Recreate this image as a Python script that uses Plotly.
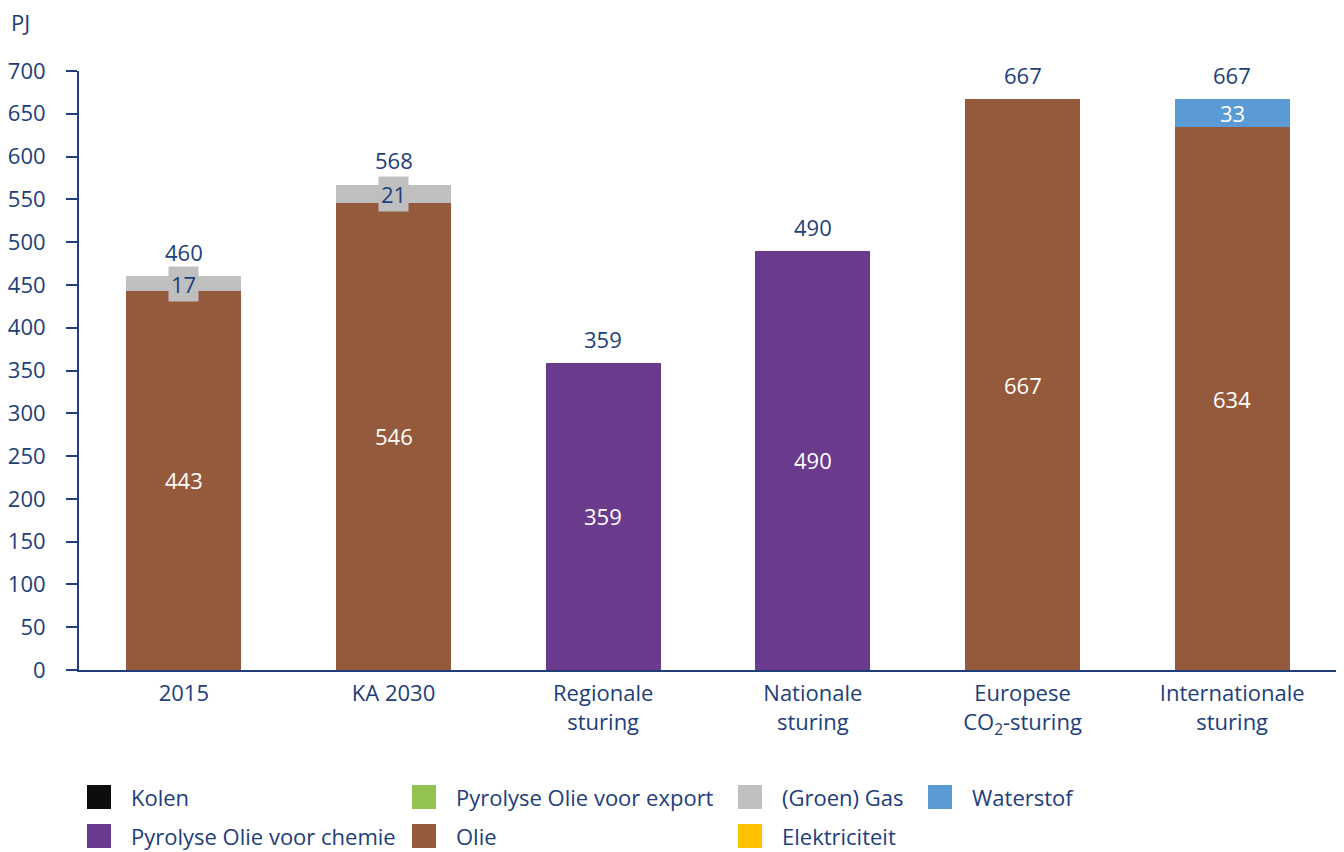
import plotly.graph_objects as go

categories = ["2015", "KA 2030", "Regionale<br>sturing", "Nationale<br>sturing",
              "Europese<br>CO<sub>2</sub>-sturing", "Internationale<br>sturing"]

kolen = [0, 0, 0, 0, 0, 0]
pyro_chemie = [0, 0, 359, 490, 0, 0]
pyro_export = [0, 0, 0, 0, 0, 0]
olie = [443, 546, 0, 0, 667, 634]
gas = [17, 21, 0, 0, 0, 0]
elektriciteit = [0, 0, 0, 0, 0, 0]
waterstof = [0, 0, 0, 0, 0, 33]
totals = [460, 568, 359, 490, 667, 667]

y_ticks = list(range(0, 701, 50))

NAVY = "#213E7A"
FONT = "Open Sans"
FS = 22

series = [
    ("Kolen", kolen, "#0D0D0D", "white", None),
    ("Pyrolyse Olie voor chemie", pyro_chemie, "#6A3B8C", "white", None),
    ("Pyrolyse Olie voor export", pyro_export, "#92C353", "white", None),
    ("Olie", olie, "#955A3C", "white", None),
    ("(Groen) Gas", gas, "#BFBFBF", NAVY, "#BFBFBF"),
    ("Elektriciteit", elektriciteit, "#FFC000", NAVY, None),
    ("Waterstof", waterstof, "#5B9BD5", "white", None),
]

fig = go.Figure()
annotations = []
base = [0] * len(categories)
for name, vals, color, tcol, bg in series:
    fig.add_trace(go.Bar(x=categories, y=vals, name=name, marker_color=color,
                         marker_line_width=0, width=0.55, showlegend=False))
    for i, v in enumerate(vals):
        if v > 0:
            # numeric x = category index on a category axis
            annotations.append(dict(x=i, y=base[i] + v / 2, xref="x", yref="y",
                                    text=str(v), showarrow=False,
                                    font=dict(family=FONT, size=FS, color=tcol),
                                    bgcolor=bg, borderpad=2 if bg else 1))
            base[i] += v

for i, t in enumerate(totals):
    annotations.append(dict(x=i, y=t, xref="x", yref="y", text=str(t),
                            showarrow=False, yanchor="middle", yshift=24,
                            font=dict(family=FONT, size=FS, color=NAVY)))

# page has an 8px body margin: figure is drawn at (8, 8)
OFF = 8
W, H = 1344 - OFF, 852 - OFF
# plot area in reference pixels: x 79..1337, y 71..670
L, R, T, B = 79, 1337, 71, 670
def px(xp):
    return (xp - L) / (R - L)
def py(yp):
    return (B - yp) / (B - T)

annotations.append(dict(x=px(10), y=py(22), xref="paper", yref="paper", text="PJ",
                        showarrow=False, xanchor="left", yanchor="middle", borderpad=0,
                        font=dict(family=FONT, size=FS, color=NAVY)))

legend_pos = {
    "Kolen": (87, 797),
    "Pyrolyse Olie voor export": (412, 797),
    "(Groen) Gas": (738, 797),
    "Waterstof": (928, 797),
    "Pyrolyse Olie voor chemie": (87, 836),
    "Olie": (412, 836),
    "Elektriciteit": (738, 836),
}
shapes = []
for name, vals, color, tcol, bg in series:
    sx, sy = legend_pos[name]
    shapes.append(dict(type="rect", xref="paper", yref="paper",
                       x0=px(sx), x1=px(sx + 24), y0=py(sy + 12), y1=py(sy - 12),
                       fillcolor=color, line=dict(width=0)))
    annotations.append(dict(x=px(sx + 42), y=py(sy), xref="paper", yref="paper", text=name,
                            showarrow=False, xanchor="left", yanchor="middle",
                            font=dict(family=FONT, size=FS, color=NAVY)))

fig.update_layout(
    barmode="stack",
    width=W, height=H,
    margin=dict(l=L - OFF, r=1344 - R, t=T - OFF, b=852 - B, autoexpand=False),
    plot_bgcolor="white", paper_bgcolor="white",
    font=dict(family=FONT, size=FS, color=NAVY),
    annotations=annotations,
    shapes=shapes,
    showlegend=False,
    xaxis=dict(type="category", showline=True, linecolor=NAVY, linewidth=2, ticks="",
               range=[-0.5, len(categories) - 0.5], automargin=False, ticklabelstandoff=3,
               tickfont=dict(family=FONT, size=FS, color=NAVY), showgrid=False),
    yaxis=dict(range=[0, 700], tickvals=y_ticks, showline=True, linecolor=NAVY, linewidth=2,
               ticks="outside", ticklen=11, tickwidth=2, tickcolor=NAVY, showgrid=False,
               zeroline=False, ticklabelstandoff=16, automargin=False,
               tickfont=dict(family=FONT, size=FS, color=NAVY)),
)

fig.write_html("out.html")
